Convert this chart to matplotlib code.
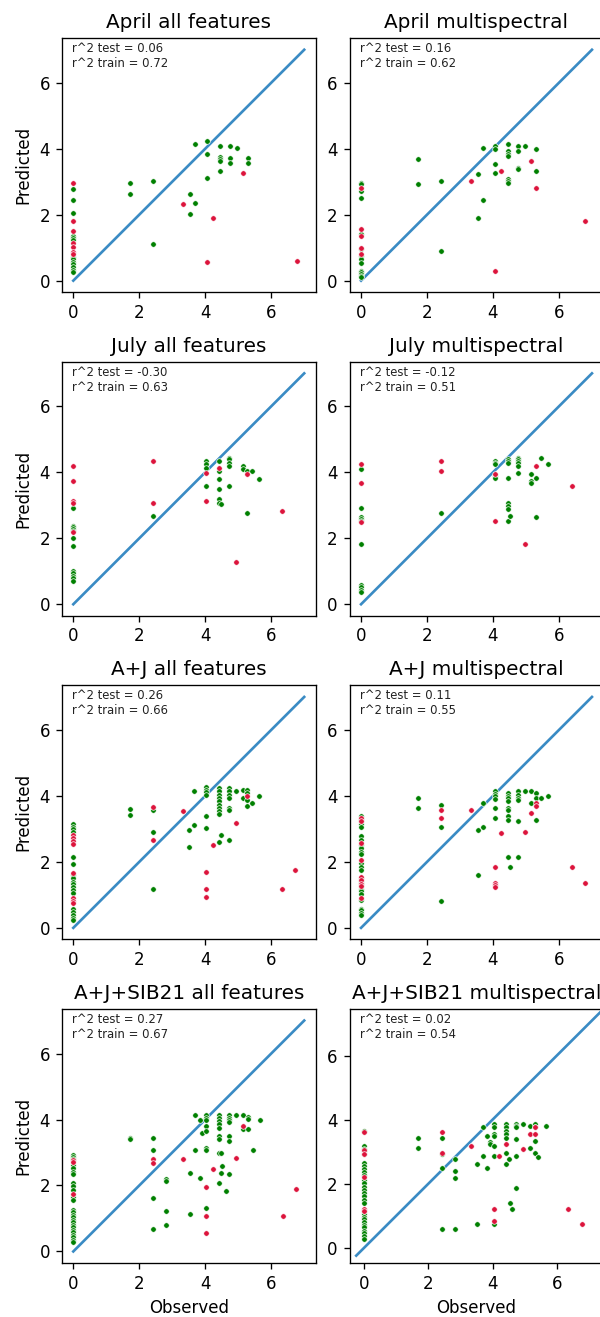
import numpy as np
import matplotlib
matplotlib.use("Agg")
import matplotlib.pyplot as plt

# (observed, predicted) pairs, split by colour
apr_all_green = [(0, 2.77), (0, 2.46), (0, 2.06), (0, 1.35), (0, 1.28), (0, 1.22), (0, 0.73), (0, 0.65),
                 (0, 0.57), (0, 0.49), (0, 0.41), (0, 0.33), (0, 0.26), (1.72, 2.97), (1.72, 2.62),
                 (2.42, 3.02), (2.42, 1.11), (3.54, 2.62), (3.54, 2.02), (3.69, 4.13), (3.69, 2.36),
                 (4.04, 4.23), (4.04, 3.83), (4.04, 3.12), (4.44, 4.08), (4.44, 3.75), (4.44, 3.70),
                 (4.44, 3.63), (4.44, 3.32), (4.75, 4.08), (4.75, 3.73), (4.75, 3.58), (4.95, 4.03),
                 (5.30, 3.73), (5.30, 3.58)]
apr_all_red = [(0, 2.97), (0, 1.81), (0, 1.50), (0, 1.15), (0, 1.03), (0, 0.88), (0, 0.80), (3.33, 2.32),
               (4.04, 0.56), (4.24, 1.91), (5.15, 3.27), (6.77, 0.60)]

apr_ms_green = [(0, 2.97), (0, 2.92), (0, 2.72), (0, 2.52), (0, 1.40), (0, 0.95), (0, 0.75), (0, 0.65),
                (0, 0.55), (0, 0.30), (0, 0.25), (0, 0.20), (0, 0.15), (0, 0.10), (1.72, 3.68), (1.72, 2.92),
                (2.43, 3.02), (2.43, 0.91), (3.54, 3.22), (3.54, 1.91), (3.69, 4.03), (3.69, 2.46),
                (4.05, 4.08), (4.05, 3.98), (4.05, 3.53), (4.05, 3.27), (4.45, 4.13), (4.45, 3.93),
                (4.45, 3.83), (4.45, 3.78), (4.45, 3.07), (4.45, 3.02), (4.45, 2.97), (4.76, 4.08),
                (4.76, 3.93), (4.76, 3.42), (4.76, 3.37), (4.96, 4.08), (5.31, 3.98), (5.31, 3.32)]
apr_ms_red = [(0, 2.82), (0, 1.56), (0, 1.35), (0, 1.00), (0, 0.80), (3.34, 3.02), (4.05, 0.30), (4.25, 3.32),
              (5.16, 3.63), (5.31, 2.82), (6.78, 1.81)]

jul_all_green = [(0, 2.93), (0, 2.38), (0, 2.33), (0, 2.28), (0, 2.23), (0, 2.02), (0, 1.77), (0, 1.01),
                 (0, 0.94), (0, 0.87), (0, 0.79), (0, 0.72), (2.41, 2.68), (4.02, 4.34), (4.02, 4.24),
                 (4.02, 4.14), (4.02, 3.59), (4.42, 4.34), (4.42, 4.04), (4.42, 3.79), (4.42, 3.48),
                 (4.42, 3.18), (4.42, 3.08), (4.47, 3.03), (4.72, 4.44), (4.72, 4.39), (4.72, 4.29),
                 (4.72, 4.19), (4.72, 3.59), (5.13, 4.19), (5.13, 4.09), (5.28, 4.04), (5.43, 4.04),
                 (5.28, 2.78), (5.63, 3.79)]
jul_all_red = [(0, 4.19), (0, 3.74), (0, 3.13), (0, 3.08), (0, 2.18), (2.41, 4.34), (2.41, 3.08), (4.02, 3.99),
               (4.02, 3.13), (4.42, 4.14), (4.92, 1.27), (5.28, 3.94), (6.33, 2.83)]

jul_ms_green = [(0, 4.09), (0, 2.93), (0, 2.63), (0, 2.58), (0, 2.53), (0, 1.82), (0, 0.58), (0, 0.51),
                (0, 0.43), (0, 0.36), (2.43, 2.78), (4.05, 4.34), (4.05, 4.29), (4.05, 4.24), (4.05, 3.89),
                (4.05, 3.84), (4.45, 4.39), (4.45, 4.34), (4.45, 4.29), (4.45, 3.84), (4.45, 3.08),
                (4.45, 2.98), (4.45, 2.88), (4.45, 2.53), (4.52, 2.68), (4.76, 4.44), (4.76, 4.39),
                (4.76, 4.34), (4.76, 4.29), (4.76, 4.19), (4.76, 3.99), (5.16, 3.94), (5.16, 3.74),
                (5.16, 3.69), (5.31, 3.84), (5.31, 2.63), (5.47, 4.44), (5.67, 4.24)]
jul_ms_red = [(0, 4.24), (0, 3.69), (0, 2.48), (2.43, 4.34), (2.43, 4.04), (4.05, 3.94), (4.05, 2.53),
              (4.96, 1.82), (5.31, 4.19), (6.38, 3.59)]

aj_all_green = [(0, 3.15), (0, 3.07), (0, 3.00), (0, 2.92), (0, 2.16), (0, 1.95), (0, 1.60), (0, 1.50),
                (0, 1.40), (0, 1.32), (0, 1.24), (0, 1.16), (0, 1.07), (0, 0.58), (0, 0.48), (0, 0.38),
                (0, 0.31), (0, 0.24), (1.71, 3.60), (1.71, 3.43), (2.41, 3.58), (2.41, 2.92), (2.41, 1.19),
                (3.52, 2.97), (3.52, 2.46), (3.67, 3.12), (3.67, 4.14), (4.02, 4.27), (4.02, 4.19),
                (4.02, 4.11), (4.02, 4.04), (4.02, 3.38), (4.02, 3.02), (4.42, 4.24), (4.42, 4.14),
                (4.42, 4.04), (4.42, 3.94), (4.42, 3.84), (4.42, 3.73), (4.42, 3.63), (4.42, 3.53),
                (4.42, 3.45), (4.42, 2.61), (4.47, 2.82), (4.72, 4.24), (4.72, 4.14), (4.72, 4.04),
                (4.72, 3.94), (4.72, 3.63), (4.72, 3.58), (4.72, 2.67), (4.92, 4.14), (5.13, 4.19),
                (5.13, 3.94), (5.28, 4.19), (5.28, 4.09), (5.28, 3.89), (5.28, 3.68), (5.43, 3.78),
                (5.63, 3.99)]
aj_all_red = [(0, 2.82), (0, 2.72), (0, 2.62), (0, 2.53), (0, 1.67), (0, 0.89), (0, 0.81), (0, 0.75),
              (2.41, 3.65), (2.41, 2.67), (3.32, 3.53), (4.02, 1.70), (4.02, 1.19), (4.02, 0.94),
              (4.22, 2.51), (4.92, 3.17), (5.28, 3.99), (6.33, 1.19), (6.73, 1.75)]

aj_ms_green = [(0, 3.38), (0, 3.30), (0, 3.23), (0, 3.14), (0, 3.07), (0, 2.77), (0, 2.67), (0, 2.51),
               (0, 2.41), (0, 2.31), (0, 2.24), (0, 1.97), (0, 1.85), (0, 1.75), (0, 1.50), (0, 1.42),
               (0, 1.35), (0, 1.27), (0, 1.19), (0, 1.12), (0, 1.04), (0, 0.83), (0, 0.58), (0, 0.53),
               (0, 0.46), (0, 0.40), (1.72, 3.94), (1.72, 3.63), (2.43, 3.73), (2.43, 3.07), (2.43, 0.80),
               (3.54, 2.97), (3.54, 1.60), (3.69, 3.07), (3.69, 3.78), (4.05, 4.14), (4.05, 4.06),
               (4.05, 3.99), (4.05, 3.91), (4.05, 3.63), (4.05, 3.33), (4.45, 4.09), (4.45, 4.01),
               (4.45, 3.93), (4.45, 3.84), (4.45, 3.63), (4.45, 3.56), (4.45, 3.38), (4.45, 3.28),
               (4.45, 2.16), (4.52, 1.85), (4.76, 4.14), (4.76, 4.04), (4.76, 3.94), (4.76, 3.89),
               (4.76, 3.23), (4.76, 2.16), (4.96, 4.14), (5.16, 4.14), (5.16, 3.78), (5.31, 4.09),
               (5.31, 3.94), (5.31, 3.28), (5.47, 3.94), (5.67, 3.99)]
aj_ms_red = [(0, 3.33), (0, 3.23), (0, 2.58), (0, 2.05), (0, 1.55), (0, 1.44), (0, 1.34), (0, 1.26),
             (0, 0.89), (2.43, 3.58), (2.43, 3.33), (3.34, 3.58), (4.05, 1.85), (4.05, 1.36), (4.05, 1.30),
             (4.05, 1.24), (4.25, 2.87), (4.96, 2.92), (5.16, 3.48), (5.31, 3.78), (5.31, 3.68),
             (6.38, 1.85), (6.78, 1.36)]

ajs_all_green = [(0, 2.92), (0, 2.86), (0, 2.80), (0, 2.62), (0, 2.52), (0, 2.42), (0, 2.34), (0, 2.07),
                 (0, 1.97), (0, 1.86), (0, 1.66), (0, 1.56), (0, 1.26), (0, 1.19), (0, 1.11), (0, 1.04),
                 (0, 0.96), (0, 0.89), (0, 0.81), (0, 0.74), (0, 0.66), (0, 0.58), (0, 0.50), (0, 0.43),
                 (0, 0.35), (0, 0.28), (1.71, 3.45), (1.71, 3.40), (2.42, 3.45), (2.42, 3.09), (2.42, 1.63),
                 (2.42, 0.69), (2.82, 2.19), (2.82, 2.14), (2.82, 1.23), (2.82, 0.79), (3.53, 2.39),
                 (3.53, 1.13), (3.68, 3.09), (3.68, 4.15), (3.83, 2.24), (3.83, 3.98), (3.91, 3.60),
                 (4.03, 4.15), (4.03, 4.05), (4.03, 3.98), (4.03, 3.81), (4.03, 3.65), (4.03, 3.15),
                 (4.03, 3.09), (4.03, 1.33), (4.42, 4.15), (4.42, 4.05), (4.42, 3.95), (4.42, 3.85),
                 (4.42, 3.75), (4.42, 3.50), (4.42, 3.40), (4.42, 2.99), (4.42, 2.09), (4.47, 2.99),
                 (4.52, 2.59), (4.49, 2.39), (4.64, 1.83), (4.72, 4.15), (4.72, 4.05), (4.72, 3.98),
                 (4.72, 3.91), (4.72, 3.50), (4.72, 3.35), (4.72, 2.34), (4.94, 4.15), (5.14, 4.13),
                 (5.14, 3.70), (5.29, 4.08), (5.29, 4.03), (5.29, 3.70), (5.44, 3.09), (5.65, 4.00)]
ajs_all_red = [(0, 2.77), (0, 2.70), (0, 1.73), (2.42, 2.79), (2.42, 2.69), (3.33, 2.79), (4.03, 1.94),
               (4.03, 1.08), (4.03, 0.57), (4.23, 2.49), (4.94, 2.84), (5.14, 3.80), (6.35, 1.08), (6.75, 1.89)]

ajs_ms_green = [(0, 3.66), (0, 3.17), (0, 3.08), (0, 3.01), (0, 2.93), (0, 2.64), (0, 2.56), (0, 2.46),
                (0, 2.38), (0, 2.28), (0, 2.10), (0, 2.01), (0, 1.91), (0, 1.81), (0, 1.70), (0, 1.60),
                (0, 1.49), (0, 1.41), (0, 1.13), (0, 1.05), (0, 0.97), (0, 0.89), (0, 0.80), (0, 0.71),
                (0, 0.63), (0, 0.53), (0, 0.45), (0, 0.37), (0, 0.28), (1.68, 3.44), (1.68, 3.13),
                (2.42, 3.44), (2.42, 2.92), (2.42, 2.50), (2.42, 0.57), (2.84, 2.77), (2.84, 2.40),
                (2.84, 2.19), (2.84, 0.57), (3.53, 2.61), (3.53, 0.73), (3.69, 3.76), (3.69, 2.87),
                (3.84, 3.50), (3.84, 2.50), (3.92, 3.29), (3.92, 3.24), (4.04, 3.86), (4.04, 3.76),
                (4.04, 3.55), (4.04, 3.50), (4.04, 3.18), (4.04, 2.87), (4.04, 0.73), (4.41, 3.86),
                (4.41, 3.76), (4.41, 3.65), (4.41, 3.55), (4.41, 3.44), (4.41, 2.97), (4.41, 2.61),
                (4.50, 2.77), (4.53, 1.41), (4.62, 1.20), (4.73, 3.86), (4.73, 3.81), (4.73, 3.76),
                (4.73, 3.39), (4.73, 2.87), (4.73, 1.88), (4.95, 3.86), (5.16, 3.81), (5.16, 3.13),
                (5.32, 3.86), (5.32, 3.76), (5.32, 3.34), (5.32, 2.97), (5.42, 2.82), (5.68, 3.81)]
ajs_ms_red = [(0, 3.60), (0, 3.06), (0, 2.93), (0, 2.22), (0, 1.20), (0, 1.13), (2.42, 3.60), (2.42, 2.97),
              (3.32, 3.18), (4.04, 1.20), (4.04, 0.84), (4.21, 2.87), (4.41, 3.24), (4.95, 3.08),
              (5.16, 3.55), (5.32, 3.55), (5.32, 3.76), (6.36, 1.20), (6.79, 0.73)]

titles = ["April all features", "April multispectral", "July all features", "July multispectral",
          "A+J all features", "A+J multispectral", "A+J+SIB21 all features", "A+J+SIB21 multispectral"]
r2_test = ["0.06", "0.16", "-0.30", "-0.12", "0.26", "0.11", "0.27", "0.02"]
r2_train = ["0.72", "0.62", "0.63", "0.51", "0.66", "0.55", "0.67", "0.54"]
greens = [apr_all_green, apr_ms_green, jul_all_green, jul_ms_green,
          aj_all_green, aj_ms_green, ajs_all_green, ajs_ms_green]
reds = [apr_all_red, apr_ms_red, jul_all_red, jul_ms_red,
        aj_all_red, aj_ms_red, ajs_all_red, ajs_ms_red]
line_lo = [0, 0, 0, 0, 0, 0, 0, -0.25]
line_hi = [7, 7, 7, 7, 7, 7, 7, 7.7]

W, H = 600, 1317
fig = plt.figure(figsize=(W / 120, H / 120), dpi=120)

col_left = [61.75, 349.5]
row_top = [38.2, 361.8, 685.4, 1009.0]
aw, ah = 254, 254

for i in range(8):
    r, c = i // 2, i % 2
    ax = fig.add_axes([col_left[c] / W, 1 - (row_top[r] + ah) / H, aw / W, ah / H])
    g = np.array(greens[i])
    rd = np.array(reds[i])
    ax.plot([line_lo[i], line_hi[i]], [line_lo[i], line_hi[i]], color="#3a8bc4", lw=1.6, zorder=1)
    ax.scatter(g[:, 0], g[:, 1], s=11, color="green", edgecolors="white", linewidths=0.4, zorder=2)
    ax.scatter(rd[:, 0], rd[:, 1], s=11, color="crimson", edgecolors="white", linewidths=0.4, zorder=3)
    if i == 7:
        ax.set_xlim(-0.46, 7.46)
        ax.set_ylim(-0.48, 7.46)
    else:
        ax.set_xlim(-0.35, 7.35)
        ax.set_ylim(-0.35, 7.35)
    ax.set_xticks([0, 2, 4, 6])
    ax.set_yticks([0, 2, 4, 6])
    ax.tick_params(labelsize=10)
    ax.set_title(titles[i], fontsize=12)
    ax.text(0.04, 0.985, "r^2 test = " + r2_test[i] + "\nr^2 train = " + r2_train[i],
            transform=ax.transAxes, fontsize=7, va="top", ha="left", color="#222222")
    if c == 0:
        ax.set_ylabel("Predicted", fontsize=10)
    if r == 3:
        ax.set_xlabel("Observed", fontsize=10)

fig.savefig("out.png", dpi=120)
